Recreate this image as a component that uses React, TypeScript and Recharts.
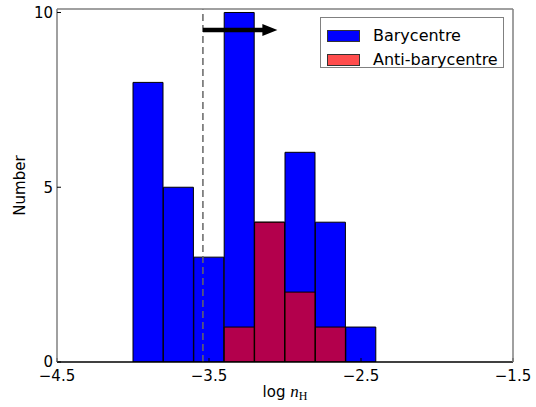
import { Bar, ComposedChart, Legend, ReferenceDot, ReferenceLine, XAxis, YAxis } from "recharts";

// histogram of log n_H, bins of 0.2 dex
const binCentres = [-3.9, -3.7, -3.5, -3.3, -3.1, -2.9, -2.7, -2.5];
const barycentre = [8, 5, 3, 10, 4, 6, 4, 1];
const antiBarycentre = [0, 0, 0, 1, 4, 2, 1, 0];

const xTicks = [-4.5, -3.5, -2.5, -1.5];
const yTicks = [0, 5, 10];
const xDomain = [-4.5, -1.5];
const yDomain = [0, 10.1];

// dashed threshold and the arrow pointing right from it
const threshold = -3.54;
const arrowSpan = [-3.54, -3.05];
const arrowLevel = 9.5;

const rows = binCentres.map((x, i) => ({ x, bary: barycentre[i], anti: antiBarycentre[i] }));

const FONT = "DejaVu Sans";
const FRAME = "#808080";
const BLUE = "#0000ff";
const RED = "#ff0000";

const fmt = (v: number) => v.toFixed(1).replace("-", "\u2212");

function XLabel(props: any) {
  const vb = props.viewBox ?? {};
  return (
    <text x={vb.x + vb.width / 2} y={vb.y + 35} textAnchor="middle" fill="#000" fontFamily={FONT} fontSize={15}>
      log{" "}
      <tspan fontFamily="Liberation Serif" fontStyle="italic" fontSize={17}>
        n
      </tspan>
      <tspan fontFamily="Liberation Serif" fontSize={12} dy={3}>
        H
      </tspan>
    </text>
  );
}

function YLabel(props: any) {
  const vb = props.viewBox ?? {};
  const cx = vb.x + 20;
  const cy = vb.y + vb.height / 2;
  return (
    <text
      x={cx}
      y={cy}
      transform={`rotate(-90 ${cx} ${cy})`}
      textAnchor="middle"
      dominantBaseline="central"
      fill="#000"
      fontFamily={FONT}
      fontSize={15}
    >
      Number
    </text>
  );
}

function LegendBox() {
  const items = [
    { name: "Barycentre", color: BLUE },
    { name: "Anti-barycentre", color: "#ff4d4d" },
  ];
  return (
    <div
      style={{
        width: 184,
        height: 51,
        border: `1px solid ${FRAME}`,
        background: "#fff",
        fontFamily: FONT,
        fontSize: 16,
        padding: "6px 0 0 6px",
        boxSizing: "border-box",
      }}
    >
      {items.map((it) => (
        <div key={it.name} style={{ display: "flex", alignItems: "center", height: 24, lineHeight: "24px" }}>
          <span
            style={{
              display: "inline-block",
              width: 33,
              height: 12,
              background: it.color,
              border: "1px solid #333",
              boxSizing: "border-box",
              marginRight: 13,
            }}
          />
          <span>{it.name}</span>
        </div>
      ))}
    </div>
  );
}

function ArrowHead(props: any) {
  const { cx, cy } = props;
  if (cx == null || cy == null) return null;
  return <polygon points={`${cx},${cy} ${cx - 15},${cy - 6} ${cx - 15},${cy + 6}`} fill="#000" />;
}

export default function App() {
  return (
    <div style={{ position: "absolute", left: 0, top: 0, width: 536, height: 407, background: "#fff" }}>
      <ComposedChart
        width={536}
        height={407}
        data={rows}
        margin={{ top: 8, right: 22, bottom: 0, left: 0 }}
        barCategoryGap={0}
        barGap={0}
      >
        <XAxis
          xAxisId="a"
          dataKey="x"
          type="number"
          domain={xDomain}
          allowDataOverflow
          ticks={xTicks}
          tickFormatter={fmt}
          height={45}
          axisLine={{ stroke: "#000", strokeWidth: 1.5 }}
          tickLine={{ stroke: "#000" }}
          tickSize={-4}
          tickMargin={12}
          tick={{ fill: "#000", fontSize: 15, fontFamily: FONT }}
          label={<XLabel />}
        />
        <XAxis xAxisId="b" dataKey="x" type="number" domain={xDomain} allowDataOverflow hide />
        <XAxis
          xAxisId="top"
          orientation="top"
          dataKey="x"
          type="number"
          domain={xDomain}
          allowDataOverflow
          ticks={xTicks}
          height={1}
          axisLine={{ stroke: FRAME, strokeWidth: 1.5 }}
          tickLine={{ stroke: "#000" }}
          tickSize={-4}
          tick={false}
        />
        <YAxis
          domain={yDomain}
          allowDataOverflow
          ticks={yTicks}
          width={57}
          axisLine={{ stroke: FRAME, strokeWidth: 1.5 }}
          tickLine={{ stroke: "#000" }}
          tickSize={-4}
          tickMargin={8}
          tick={{ fill: "#000", fontSize: 15, fontFamily: FONT }}
          label={<YLabel />}
        />
        <YAxis
          yAxisId="right"
          orientation="right"
          domain={yDomain}
          allowDataOverflow
          ticks={yTicks}
          width={1}
          axisLine={{ stroke: FRAME, strokeWidth: 1.5 }}
          tickLine={{ stroke: "#000" }}
          tickSize={-4}
          tick={false}
        />
        <Legend
          layout="horizontal"
          verticalAlign="middle"
          align="center"
          wrapperStyle={{ left: 320, top: 17, width: 184, height: 51 }}
          content={() => <LegendBox />}
        />
        <Bar
          xAxisId="a"
          dataKey="bary"
          name="Barycentre"
          fill={BLUE}
          stroke="#000"
          strokeWidth={1}
          isAnimationActive={false}
        />
        <Bar
          xAxisId="b"
          dataKey="anti"
          name="Anti-barycentre"
          fill={RED}
          fillOpacity={0.7}
          stroke="#000"
          strokeWidth={1}
          isAnimationActive={false}
        />
        <ReferenceLine xAxisId="a" x={threshold} stroke="#666" strokeWidth={1.5} strokeDasharray="7 4" />
        <ReferenceLine
          xAxisId="a"
          segment={[
            { x: arrowSpan[0], y: arrowLevel },
            { x: arrowSpan[1] - 0.06, y: arrowLevel },
          ]}
          stroke="#000"
          strokeWidth={4.5}
        />
        <ReferenceDot xAxisId="a" x={arrowSpan[1]} y={arrowLevel} shape={<ArrowHead />} />
      </ComposedChart>
    </div>
  );
}
